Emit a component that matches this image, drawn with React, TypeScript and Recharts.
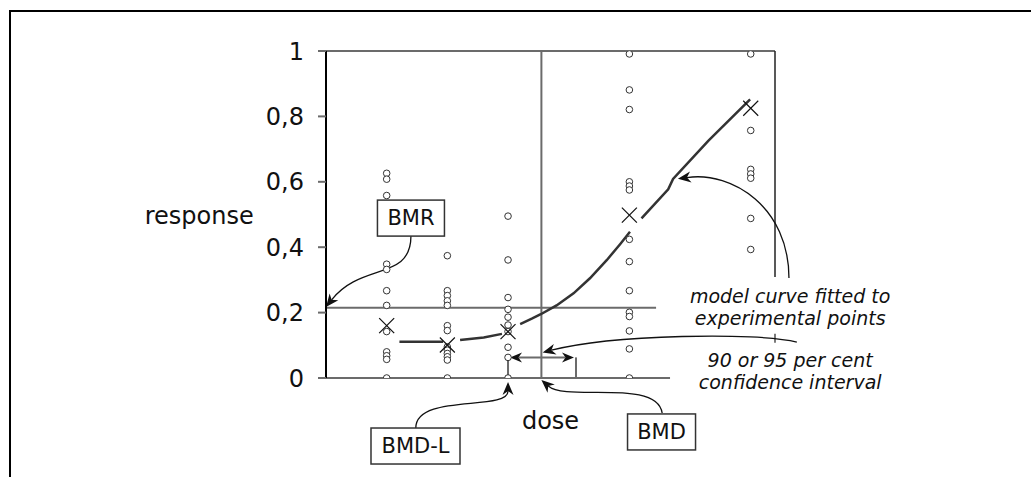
import React from 'react';
import { ComposedChart, Line, Scatter, XAxis, YAxis, ReferenceLine, ReferenceDot } from 'recharts';

const doses = [1, 2, 3, 5, 7];
const responses1 = [0.626, 0.608, 0.558, 0.348, 0.332, 0.267, 0.222, 0.142, 0.08, 0.068, 0.057, 0];
const responses2 = [0.374, 0.267, 0.252, 0.236, 0.222, 0.16, 0.145, 0.095, 0.085, 0.075, 0.065, 0.055, 0];
const responses3 = [0.495, 0.361, 0.246, 0.21, 0.186, 0.162, 0.142, 0.094, 0.063, 0];
const responses5 = [0.991, 0.881, 0.821, 0.6, 0.587, 0.575, 0.424, 0.356, 0.267, 0.201, 0.188, 0.144, 0.089, 0];
const responses7 = [0.991, 0.757, 0.638, 0.624, 0.611, 0.488, 0.393];
const means = [0.16, 0.101, 0.142, 0.498, 0.825];

// model curve, null = gap where the curve is broken by a marker or arrow
const curveDose = [1.21, 1.93, 2.0, 2.21, 2.6, 2.9, 3.0, 3.2, 3.4, 3.54, 3.8, 4.08, 4.35, 4.63, 4.85, 5.01, 5.1, 5.2, 5.64, 5.72, 6.3, 6.99];
const curveValue = [0.111, 0.111, null, 0.116, 0.124, 0.135, null, 0.165, 0.182, 0.195, 0.222, 0.259, 0.305, 0.361, 0.41, 0.447, null, 0.488, 0.577, 0.609, 0.725, 0.852];

const yTicks = [0, 0.2, 0.4, 0.6, 0.8, 1];
const BMR = 0.215;
const BMD = 3.55;
const BMDL = 3;
const upperCI = 4.12;
const ciLevel = 0.063;

const points = [responses1, responses2, responses3, responses5, responses7].flatMap((col, i) =>
  col.map((v) => ({ dose: doses[i], value: v }))
);
const meanPoints = doses.map((d, i) => ({ dose: d, value: means[i] }));
const curve = curveDose.map((d, i) => ({ dose: d, value: curveValue[i] }));

const FONT = '"DejaVu Sans", Verdana, sans-serif';
const GRAY = '#6b6b6b';

// annotation arrows: from/to in data units, bend vectors for the bezier in px
const arrows = [
  { from: [1.4, 0.434], to: [0.0, 0.217], d1: [0, 45], d2: [35, -45] },
  { from: [1.48, -0.153], to: [3.0, -0.012], d1: [0, -35], d2: [0, 30] },
  { from: [5.54, -0.107], to: [3.55, -0.006], d1: [-5, -35], d2: [25, 22] },
  { from: [7.76, 0.11], to: [3.57, 0.078], d1: [-40, -10], d2: [70, -18] },
  { from: [7.63, 0.306], to: [5.8, 0.609], d1: [0, -70], d2: [55, -8] },
];

const boxes = [
  { label: 'BMR', dose: 1.4, value: 0.489, w: 67 },
  { label: 'BMD-L', dose: 1.475, value: -0.208, w: 89 },
  { label: 'BMD', dose: 5.53, value: -0.165, w: 68 },
];

const notes = [
  { text: 'response', dose: -2.09, value: 0.495, size: 24, italic: false },
  { text: 'dose', dose: 3.7, value: -0.13, size: 24, italic: false },
  { text: 'model curve fitted to', dose: 7.65, value: 0.251, size: 19, italic: true },
  { text: 'experimental points', dose: 7.65, value: 0.184, size: 19, italic: true },
  { text: '90 or 95 per cent', dose: 7.65, value: 0.055, size: 19, italic: true },
  { text: 'confidence interval', dose: 7.65, value: -0.012, size: 19, italic: true },
];

function head(x: number, y: number, ang: number, len = 13, wid = 5.5) {
  const c = Math.cos(ang), s = Math.sin(ang);
  const bx = x - len * c, by = y - len * s;
  const nx = x - len * 0.7 * c, ny = y - len * 0.7 * s;
  const p = [
    [x, y],
    [bx - wid * s, by + wid * c],
    [nx, ny],
    [bx + wid * s, by - wid * c],
  ];
  return { d: 'M' + p.map((q) => q.join(',')).join('L') + 'Z', nx, ny };
}

function curvedArrow(d1: number[], d2: number[]) {
  return (p: any) => {
    const { x1, y1, x2, y2 } = p;
    const c1x = x1 + d1[0], c1y = y1 + d1[1];
    const c2x = x2 + d2[0], c2y = y2 + d2[1];
    const h = head(x2, y2, Math.atan2(y2 - c2y, x2 - c2x));
    return (
      <g>
        <path d={`M${x1},${y1}C${c1x},${c1y} ${c2x},${c2y} ${h.nx},${h.ny}`} fill="none" stroke="#111" strokeWidth={1.3} />
        <path d={h.d} fill="#111" />
      </g>
    );
  };
}

function ciShape(p: any) {
  const { x1, y1, x2, y2 } = p;
  const l = head(x1 + 2, y1, Math.PI, 12, 5);
  const r = head(x2 - 2, y2, 0, 12, 5);
  return (
    <g>
      <line x1={l.nx} y1={y1} x2={r.nx} y2={y2} stroke={GRAY} strokeWidth={2} />
      <path d={l.d} fill="#111" />
      <path d={r.d} fill="#111" />
    </g>
  );
}

function Circle(p: any) {
  return <circle cx={p.cx} cy={p.cy} r={3.3} fill="#fff" stroke="#333" strokeWidth={1} />;
}

function Cross(p: any) {
  const s = 7.5;
  return (
    <g stroke="#111" strokeWidth={1.2}>
      <line x1={p.cx - s} y1={p.cy - s} x2={p.cx + s} y2={p.cy + s} />
      <line x1={p.cx - s} y1={p.cy + s} x2={p.cx + s} y2={p.cy - s} />
    </g>
  );
}

export default function App() {
  return (
    <div style={{ position: 'absolute', left: 0, top: 0, width: 1031, height: 477, overflow: 'hidden', background: '#fff', fontFamily: FONT }}>
      <div style={{ position: 'absolute', left: 9, top: 10, width: 1200, height: 600, borderTop: '2px solid #000', borderLeft: '2px solid #000' }} />
      <ComposedChart width={1031} height={477} margin={{ top: 51, right: 256, bottom: 99, left: 246 }} style={{ position: 'absolute', left: 0, top: 0 }}>
        <XAxis dataKey="dose" type="number" domain={[0, 7.4]} allowDataOverflow hide />
        <YAxis
          dataKey="value"
          type="number"
          domain={[0, 1]}
          ticks={yTicks}
          allowDataOverflow
          width={80}
          tickSize={8}
          tickMargin={14}
          tickFormatter={(v) => String(v).replace('.', ',')}
          tick={{ fill: '#111', fontSize: 24, fontFamily: FONT }}
          axisLine={{ stroke: '#000', strokeWidth: 2 }}
          tickLine={{ stroke: GRAY, strokeWidth: 2 }}
        />
        <ReferenceLine y={1} stroke={GRAY} strokeWidth={2} ifOverflow="visible" />
        <ReferenceLine segment={[{ x: 0, y: 0 }, { x: 5.67, y: 0 }]} stroke={GRAY} strokeWidth={2} ifOverflow="visible" />
        <ReferenceLine segment={[{ x: 0, y: BMR }, { x: 5.44, y: BMR }]} stroke={GRAY} strokeWidth={2} ifOverflow="visible" />
        <ReferenceLine segment={[{ x: BMD, y: 0 }, { x: BMD, y: 1 }]} stroke={GRAY} strokeWidth={2} ifOverflow="visible" />
        <ReferenceLine segment={[{ x: 7.4, y: 1 }, { x: 7.4, y: 0.309 }]} stroke="#222" strokeWidth={1.5} ifOverflow="visible" />
        <ReferenceLine segment={[{ x: 7.4, y: 0.135 }, { x: 7.4, y: 0.108 }]} stroke="#222" strokeWidth={1.2} ifOverflow="visible" />
        <ReferenceLine segment={[{ x: BMDL, y: 0 }, { x: BMDL, y: ciLevel }]} stroke={GRAY} strokeWidth={2} ifOverflow="visible" />
        <ReferenceLine segment={[{ x: upperCI, y: 0 }, { x: upperCI, y: ciLevel }]} stroke={GRAY} strokeWidth={2} ifOverflow="visible" />
        <ReferenceLine segment={[{ x: BMDL, y: ciLevel }, { x: upperCI, y: ciLevel }]} shape={ciShape} ifOverflow="visible" />
        <Line
          data={curve}
          dataKey="value"
          type="linear"
          stroke="#333"
          strokeWidth={2.5}
          dot={false}
          activeDot={false}
          connectNulls={false}
          isAnimationActive={false}
        />
        <Scatter data={points} dataKey="value" shape={Circle} isAnimationActive={false} />
        <Scatter data={meanPoints} dataKey="value" shape={Cross} isAnimationActive={false} />
        {arrows.map((a, i) => (
          <ReferenceLine
            key={'a' + i}
            segment={[{ x: a.from[0], y: a.from[1] }, { x: a.to[0], y: a.to[1] }]}
            shape={curvedArrow(a.d1, a.d2)}
            ifOverflow="visible"
          />
        ))}
        {boxes.map((b) => (
          <ReferenceDot
            key={b.label}
            x={b.dose}
            y={b.value}
            ifOverflow="visible"
            shape={(p: any) => (
              <g>
                <rect x={p.cx - b.w / 2} y={p.cy - 18} width={b.w} height={36} fill="#fff" stroke="#333" strokeWidth={1.5} />
                <text x={p.cx} y={p.cy} textAnchor="middle" dominantBaseline="central" fontSize={21} fontFamily={FONT} fill="#111">
                  {b.label}
                </text>
              </g>
            )}
          />
        ))}
        {notes.map((n) => (
          <ReferenceDot
            key={n.text}
            x={n.dose}
            y={n.value}
            ifOverflow="visible"
            shape={(p: any) => (
              <text
                x={p.cx}
                y={p.cy}
                textAnchor="middle"
                dominantBaseline="central"
                fontSize={n.size}
                fontStyle={n.italic ? 'italic' : 'normal'}
                fontFamily={FONT}
                fill="#111"
              >
                {n.text}
              </text>
            )}
          />
        ))}
      </ComposedChart>
    </div>
  );
}
